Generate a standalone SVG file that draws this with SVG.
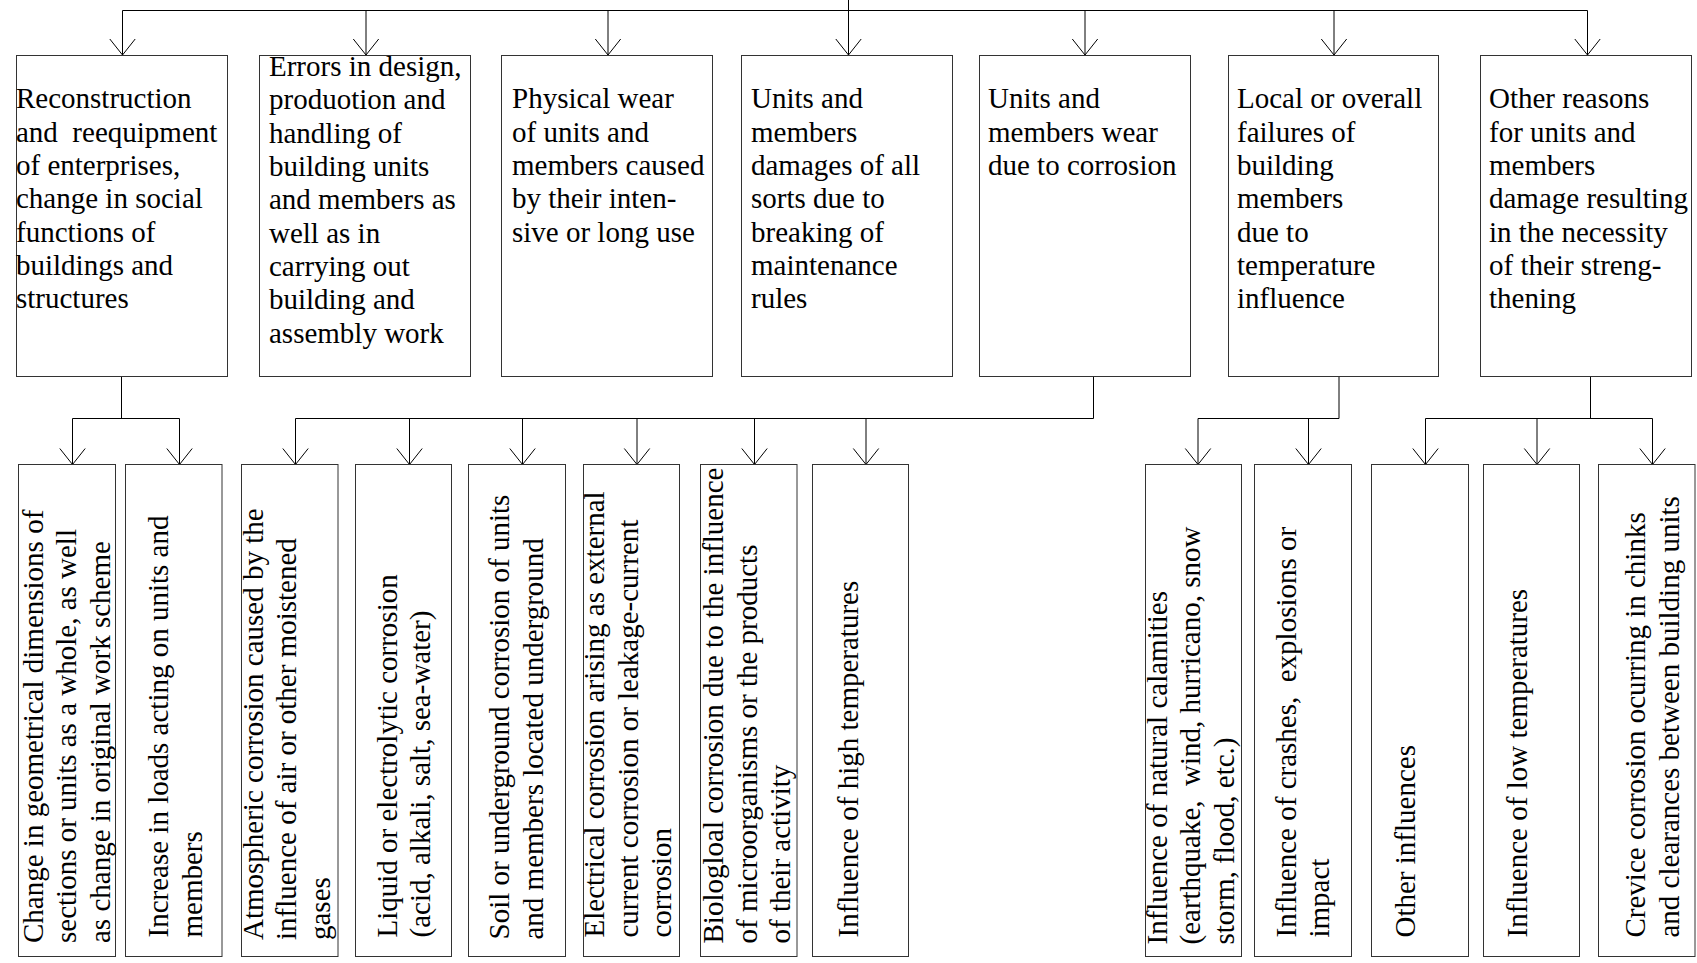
<svg xmlns="http://www.w3.org/2000/svg" width="1697" height="963" viewBox="0 0 1697 963">
<defs>
<marker id="arr" viewBox="-17 -14 19 28" refX="0" refY="0" markerWidth="19" markerHeight="28" markerUnits="userSpaceOnUse" orient="auto">
<path d="M-16,-12.7 L0,0 L-16,12.7" fill="none" stroke="#000" stroke-width="1"/>
</marker>
</defs>
<style>
rect.box{fill:#fff;stroke:#333;stroke-width:1}
.ln{fill:none;stroke:#000;stroke-width:1}
.ar{fill:none;stroke:#000;stroke-width:1;marker-end:url(#arr)}
text{font-family:"Liberation Serif","Times New Roman",serif;fill:#000}
.t{font-size:29px}
.v{font-size:29px}
</style>
<rect width="1697" height="963" fill="#fff"/>

<g id="connectors">
<path class="ln" d="M122.5,10.5 H1587.5 M848.5,0 V10.5"/>
<path class="ar" d="M122.5,10.5 V55"/>
<path class="ar" d="M366,10.5 V55"/>
<path class="ar" d="M608,10.5 V55"/>
<path class="ar" d="M848.5,10.5 V55"/>
<path class="ar" d="M1085,10.5 V55"/>
<path class="ar" d="M1334,10.5 V55"/>
<path class="ar" d="M1587.5,10.5 V55"/>
<path class="ln" d="M121.5,376.5 V418.5 M72.5,418.5 H179.5"/>
<path class="ar" d="M72.5,418.5 V464.5"/>
<path class="ar" d="M179.5,418.5 V464.5"/>
<path class="ln" d="M1093.5,376.5 V418.5 M295.5,418.5 H1093.5"/>
<path class="ar" d="M295.5,418.5 V464.5"/>
<path class="ar" d="M409.5,418.5 V464.5"/>
<path class="ar" d="M522.5,418.5 V464.5"/>
<path class="ar" d="M637,418.5 V464.5"/>
<path class="ar" d="M754.5,418.5 V464.5"/>
<path class="ar" d="M866,418.5 V464.5"/>
<path class="ln" d="M1339,376.5 V418.5 M1198,418.5 H1339"/>
<path class="ar" d="M1198,418.5 V464.5"/>
<path class="ar" d="M1308.5,418.5 V464.5"/>
<path class="ln" d="M1590.5,376.5 V418.5 M1425.5,418.5 H1652.5"/>
<path class="ar" d="M1425.5,418.5 V464.5"/>
<path class="ar" d="M1537,418.5 V464.5"/>
<path class="ar" d="M1652.5,418.5 V464.5"/>
</g>

<g id="n1"><rect class="box" x="16.5" y="55.5" width="211" height="321"/>
<text class="t" y="108.3"><tspan x="16">Reconstruction</tspan><tspan x="16" dy="33.33" xml:space="preserve">and  reequipment</tspan><tspan x="16" dy="33.33">of enterprises,</tspan><tspan x="16" dy="33.33">change in social</tspan><tspan x="16" dy="33.33">functions of</tspan><tspan x="16" dy="33.33">buildings and</tspan><tspan x="16" dy="33.33">structures</tspan></text></g>

<g id="n2"><rect class="box" x="259.5" y="55.5" width="211" height="321"/>
<text class="t" y="76"><tspan x="269">Errors in design,</tspan><tspan x="269" dy="33.33">produotion and</tspan><tspan x="269" dy="33.33">handling of</tspan><tspan x="269" dy="33.33">building units</tspan><tspan x="269" dy="33.33">and members as</tspan><tspan x="269" dy="33.33">well as in</tspan><tspan x="269" dy="33.33">carrying out</tspan><tspan x="269" dy="33.33">building and</tspan><tspan x="269" dy="33.33">assembly work</tspan></text></g>

<g id="n3"><rect class="box" x="501.5" y="55.5" width="211" height="321"/>
<text class="t" y="108.3"><tspan x="512">Physical wear</tspan><tspan x="512" dy="33.33">of units and</tspan><tspan x="512" dy="33.33">members caused</tspan><tspan x="512" dy="33.33">by their inten-</tspan><tspan x="512" dy="33.33">sive or long use</tspan></text></g>

<g id="n4"><rect class="box" x="741.5" y="55.5" width="211" height="321"/>
<text class="t" y="108.3"><tspan x="751">Units and</tspan><tspan x="751" dy="33.33">members</tspan><tspan x="751" dy="33.33">damages of all</tspan><tspan x="751" dy="33.33">sorts due to</tspan><tspan x="751" dy="33.33">breaking of</tspan><tspan x="751" dy="33.33">maintenance</tspan><tspan x="751" dy="33.33">rules</tspan></text></g>

<g id="n5"><rect class="box" x="979.5" y="55.5" width="211" height="321"/>
<text class="t" y="108.3"><tspan x="988">Units and</tspan><tspan x="988" dy="33.33">members wear</tspan><tspan x="988" dy="33.33">due to corrosion</tspan></text></g>

<g id="n6"><rect class="box" x="1228.5" y="55.5" width="210" height="321"/>
<text class="t" y="108.3"><tspan x="1237">Local or overall</tspan><tspan x="1237" dy="33.33">failures of</tspan><tspan x="1237" dy="33.33">building</tspan><tspan x="1237" dy="33.33">members</tspan><tspan x="1237" dy="33.33">due to</tspan><tspan x="1237" dy="33.33">temperature</tspan><tspan x="1237" dy="33.33">influence</tspan></text></g>

<g id="n7"><rect class="box" x="1480.5" y="55.5" width="211" height="321"/>
<text class="t" y="108.3"><tspan x="1489">Other reasons</tspan><tspan x="1489" dy="33.33">for units and</tspan><tspan x="1489" dy="33.33">members</tspan><tspan x="1489" dy="33.33">damage resulting</tspan><tspan x="1489" dy="33.33">in the necessity</tspan><tspan x="1489" dy="33.33">of their streng-</tspan><tspan x="1489" dy="33.33">thening</tspan></text></g>

<g id="b1"><rect class="box" x="18.5" y="464.5" width="97" height="492"/>
<text class="v" transform="translate(42.5,943) rotate(-90)"><tspan x="0" y="0">Change in geometrical dimensions of</tspan><tspan x="0" dy="33.8">sections or units as a whole, as well</tspan><tspan x="0" dy="33.6">as change in original work scheme</tspan></text></g>

<g id="b2"><rect class="box" x="125.5" y="464.5" width="96.5" height="492"/>
<text class="v" transform="translate(168,937.5) rotate(-90)"><tspan x="0" y="0">Increase in loads acting on units and</tspan><tspan x="0" dy="33.5">members</tspan></text></g>

<g id="b3"><rect class="box" x="241.5" y="464.5" width="96.5" height="492"/>
<text class="v" transform="translate(262.5,940) rotate(-90)"><tspan x="0" y="0">Atmospheric corrosion caused by the</tspan><tspan x="0" dy="33.5">influence of air or other moistened</tspan><tspan x="0" dy="33.5">gases</tspan></text></g>

<g id="b4"><rect class="box" x="355.5" y="464.5" width="96" height="492"/>
<text class="v" transform="translate(396.5,937.5) rotate(-90)"><tspan x="0" y="0">Liquid or electrolytic corrosion</tspan><tspan x="0" dy="33.5">(acid, alkali, salt, sea-water)</tspan></text></g>

<g id="b5"><rect class="box" x="468.5" y="464.5" width="97" height="492"/>
<text class="v" transform="translate(509,939.5) rotate(-90)"><tspan x="0" y="0">Soil or underground corrosion of units</tspan><tspan x="0" dy="33.5">and members located underground</tspan></text></g>

<g id="b6"><rect class="box" x="583.5" y="464.5" width="96" height="492"/>
<text class="v" transform="translate(604,937.5) rotate(-90)"><tspan x="0" y="0">Electrical corrosion arising as external</tspan><tspan x="0" dy="33.5">current corrosion or leakage-current</tspan><tspan x="0" dy="33.5">corrosion</tspan></text></g>

<g id="b7"><rect class="box" x="700.5" y="464.5" width="96.5" height="492"/>
<text class="v" transform="translate(723,943.5) rotate(-90)"><tspan x="0" y="0">Biologloal corrosion due to the influence</tspan><tspan x="0" dy="33.5">of microorganisms or the products</tspan><tspan x="0" dy="33.5">of their activity</tspan></text></g>

<g id="b8"><rect class="box" x="812.5" y="464.5" width="96" height="492"/>
<text class="v" transform="translate(858,937.5) rotate(-90)"><tspan x="0" y="0">Influence of high temperatures</tspan></text></g>

<g id="b9"><rect class="box" x="1145.5" y="464.5" width="96" height="492"/>
<text class="v" transform="translate(1166.5,944.5) rotate(-90)"><tspan x="0" y="0">Influence of natural calamities</tspan><tspan x="0" dy="33.5" xml:space="preserve">(earthquake,  wind, hurricano, snow</tspan><tspan x="0" dy="33.5">storm, flood, etc.)</tspan></text></g>

<g id="b10"><rect class="box" x="1254.5" y="464.5" width="97" height="492"/>
<text class="v" transform="translate(1296,937.5) rotate(-90)"><tspan x="0" y="0" xml:space="preserve">Influence of crashes,  explosions or</tspan><tspan x="0" dy="33">impact</tspan></text></g>

<g id="b11"><rect class="box" x="1371.5" y="464.5" width="97" height="492"/>
<text class="v" transform="translate(1415,937.5) rotate(-90)"><tspan x="0" y="0">Other influences</tspan></text></g>

<g id="b12"><rect class="box" x="1483.5" y="464.5" width="96" height="492"/>
<text class="v" transform="translate(1527,937.5) rotate(-90)"><tspan x="0" y="0">Influence of low temperatures</tspan></text></g>

<g id="b13"><rect class="box" x="1598.5" y="464.5" width="96.5" height="492"/>
<text class="v" transform="translate(1645,937.5) rotate(-90)"><tspan x="0" y="0">Crevice corrosion ocurring in chinks</tspan><tspan x="0" dy="34">and clearances between building units</tspan></text></g>
</svg>
